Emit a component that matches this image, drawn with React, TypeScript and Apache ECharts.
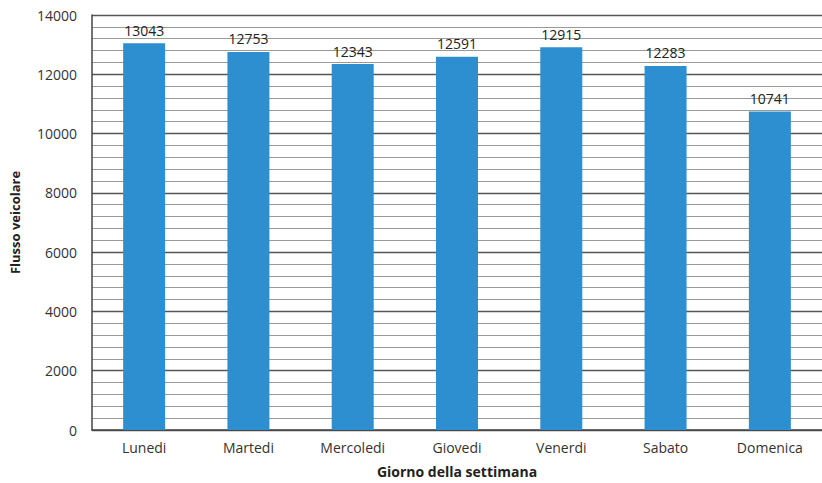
import React, { useEffect, useRef } from "react";
import * as echarts from "echarts";

const days = ["Lunedi", "Martedi", "Mercoledi", "Giovedi", "Venerdi", "Sabato", "Domenica"];
const flows = [13043, 12753, 12343, 12591, 12915, 12283, 10741];
const yMin = 0;
const yMax = 14000;
const yStep = 2000;

export default function App() {
  const ref = useRef<HTMLDivElement>(null);
  useEffect(() => {
    document.body.style.margin = "0";
    const chart = echarts.init(ref.current!, undefined, { renderer: "svg" });
    const font = "'Open Sans', 'Liberation Sans', sans-serif";
    chart.setOption({
      animation: false,
      backgroundColor: "#ffffff",
      grid: { left: 89, top: 15, bottom: 52, width: 740 },
      xAxis: {
        type: "category",
        data: days,
        name: "Giorno della settimana",
        nameLocation: "middle",
        nameGap: 34,
        nameTextStyle: { fontFamily: font, fontSize: 14, fontWeight: "bold", color: "#222" },
        axisLine: { lineStyle: { color: "#444", width: 1.5 } },
        axisTick: { show: false },
        axisLabel: { fontFamily: font, fontSize: 14, color: "#333", margin: 10 },
      },
      yAxis: {
        type: "value",
        min: yMin,
        max: yMax,
        interval: yStep,
        name: "Flusso veicolare",
        nameLocation: "middle",
        nameGap: 71,
        nameTextStyle: { fontFamily: font, fontSize: 13, fontWeight: "bold", color: "#222" },
        axisLine: { show: true, lineStyle: { color: "#444", width: 1.5 } },
        axisTick: { show: false },
        axisLabel: {
          fontFamily: font,
          fontSize: 14,
          color: "#333",
          margin: 15,
          formatter: (v: number) => String(v),
        },
        splitLine: { show: true, lineStyle: { color: "#555", width: 1.3 } },
        minorTick: { show: false, splitNumber: 5 },
        minorSplitLine: { show: true, lineStyle: { color: "#9a9a9a", width: 1 } },
      },
      series: [
        {
          type: "bar",
          data: flows,
          barWidth: 42,
          itemStyle: { color: "#2E8FD0" },
          label: {
            show: true,
            position: "top",
            distance: 6,
            fontFamily: font,
            fontSize: 14,
            color: "#222",
          },
        },
      ],
    });
    return () => chart.dispose();
  }, []);
  return <div ref={ref} style={{ width: 822, height: 483 }} />;
}
